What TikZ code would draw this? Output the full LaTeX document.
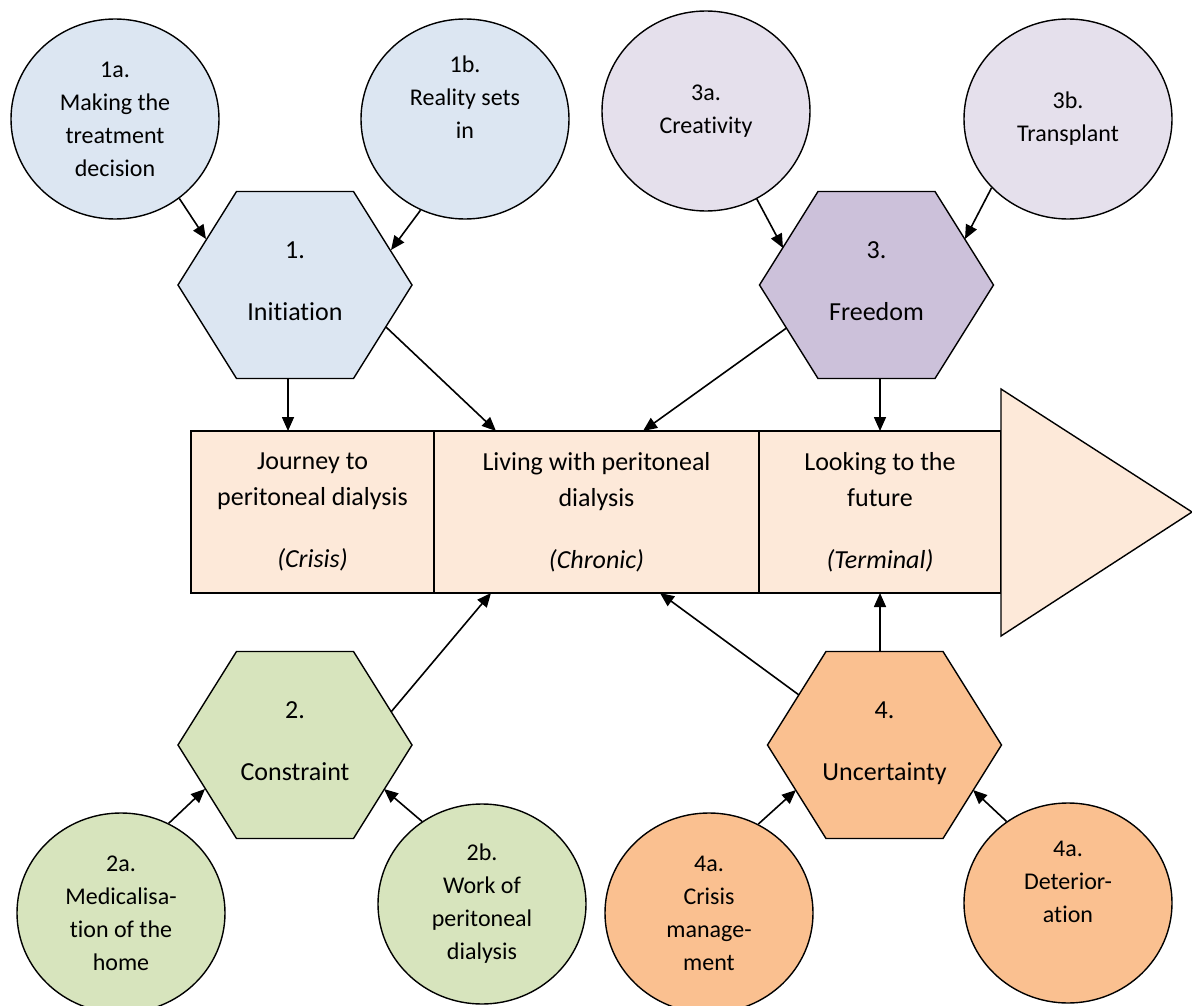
\documentclass[tikz,border=0pt]{standalone}
\usepackage{fontspec}
\setmainfont{Carlito}[Ligatures={NoCommon}]
\usetikzlibrary{arrows.meta,positioning,shapes.geometric,calc}
\definecolor{paleblue}{RGB}{220,230,242}
\definecolor{palepurple}{RGB}{229,224,236}
\definecolor{midpurple}{RGB}{204,193,218}
\definecolor{palegreen}{RGB}{215,228,189}
\definecolor{midorange}{RGB}{250,192,144}
\definecolor{palepeach}{RGB}{253,233,217}

\begin{document}
\begin{tikzpicture}[x=1pt,y=-1pt,
  theme/.style={ellipse,draw=black,line width=1.4pt,minimum width=208pt,minimum height=200pt,
                inner sep=0pt,align=center,font=\fontsize{24}{33}\selectfont},
  hexa/.style={rectangle,minimum width=240pt,minimum height=193pt,inner sep=0pt,
               align=center,text depth=8pt,font=\fontsize{26}{31}\selectfont,
               path picture={\filldraw[fill=#1,draw=black,line width=1.4pt]
                 ([xshift=-117pt]path picture bounding box.center) -- ++(58.5,-93.5) -- ++(117,0)
                 -- ++(58.5,93.5) -- ++(-58.5,93.5) -- ++(-117,0) -- cycle;}},
  stage/.style={rectangle,draw=black,line width=1.4pt,fill=palepeach,minimum height=162pt,
                inner sep=0pt,outer sep=0pt,align=center,font=\fontsize{26}{36}\selectfont},
  arrow/.style={-{Triangle[length=14pt,width=12pt]},line width=1.6pt}
]
\useasboundingbox (0,0) rectangle (1192,1006);
\node[stage,minimum width=243pt] (journey) at (312.5,512) {Journey to\\peritoneal dialysis\\[26pt]\textit{(Crisis)}};
\node[stage,minimum width=325pt,right=0pt of journey] (living) {Living with peritoneal\\dialysis\\[26pt]\textit{(Chronic)}};
\node[stage,minimum width=242pt,right=0pt of living] (future) {Looking to the\\future\\[26pt]\textit{(Terminal)}};
\draw[line width=1.4pt,fill=palepeach] (1001,389) -- (1192,512) -- (1001,636) -- cycle;

\node[hexa=paleblue] (init) at (295,285) {1.\\[31pt]Initiation};
\node[hexa=midpurple] (freedom) at (876.5,285) {3.\\[31pt]Freedom};
\node[hexa=palegreen] (constr) at (295,745) {2.\\[31pt]Constraint};
\node[hexa=midorange] (uncert) at (884.5,745) {4.\\[31pt]Uncertainty};

\node[theme,fill=paleblue] (decide) at (115,119) {1a.\\Making the\\treatment\\decision};
\node[theme,fill=paleblue] (reality) at (465,119) {1b.\\Reality sets\\in\\\strut};
\node[theme,fill=palepurple] (creat) at (706,111) {3a.\\Creativity};
\node[theme,fill=palepurple] (transp) at (1068,119) {3b.\\Transplant};
\node[theme,fill=palegreen] (medic) at (121,913) {2a.\\Medicalisa-\\tion of the\\home};
\node[theme,fill=palegreen] (work) at (482,904) {2b.\\Work of\\peritoneal\\dialysis};
\node[theme,fill=midorange] (crisis) at (709,913) {4a.\\Crisis\\manage-\\ment};
\node[theme,fill=midorange] (deter) at (1068,903) {4a.\\Deterior-\\ation\\\strut};

\draw[arrow] (decide.309) -- ($(init)+(-89,-46)$);
\draw[arrow] (reality.244.4) -- ($(init)+(96,-35)$);
\draw[arrow] ($(init.south)+(-7,-3)$) -- ([xshift=-7pt]init.south |- journey.north);
\draw[arrow] ($(init)+(91,42)$) -- ([xshift=62pt]living.north west);
\draw[arrow] (creat.300.6) -- ($(freedom)+(-93.5,-37)$);
\draw[arrow] (transp.222.6) -- ($(freedom)+(88.5,-46)$);
\draw[arrow] ($(freedom)+(-90,43)$) -- ([xshift=209pt]living.north west);
\draw[arrow] ($(freedom.south -| future.north)+(0,-3)$) -- (future.north);
\draw[arrow] ($(constr)+(96,-33)$) -- ([xshift=57pt]living.south west);
\draw[arrow] (medic.62.9) -- ($(constr)+(-90,44)$);
\draw[arrow] (work.126.5) -- ($(constr)+(89,44)$);
\draw[arrow] ($(uncert)+(-85.5,-50)$) -- ([xshift=226pt]living.south west);
\draw[arrow] ($(uncert.north -| future.south)+(0,3)$) -- (future.south);
\draw[arrow] (crisis.61.4) -- ($(uncert)+(-88.5,45)$);
\draw[arrow] (deter.127) -- ($(uncert)+(88.5,45)$);
\end{tikzpicture}
\end{document}
